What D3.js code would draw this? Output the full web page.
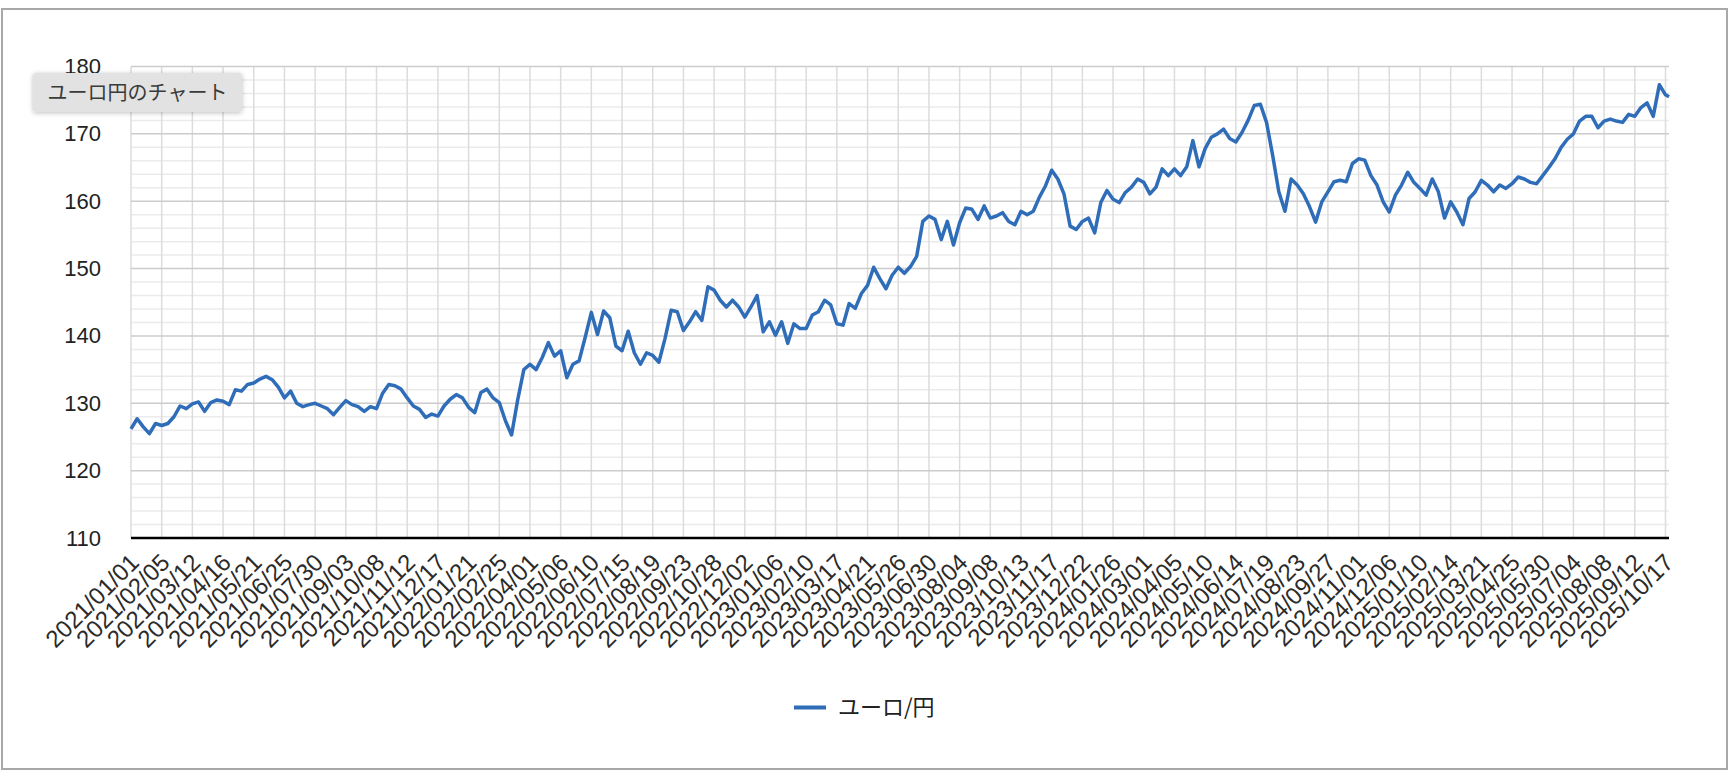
<!DOCTYPE html>
<html>
<head>
<meta charset="utf-8">
<script src="https://cdn.jsdelivr.net/npm/d3@7"></script>
<style>
  html, body { margin: 0; padding: 0; background: #fff; }
  svg { display: block; font-family: "Liberation Sans", Arial, "Noto Sans CJK JP", sans-serif; }
</style>
</head>
<body>
<svg id="chart" width="1730" height="772"></svg>
<script>
// ---- data ----
const chartTitle = "ユーロ円のチャート";
const seriesName = "ユーロ/円";
const startDate = "2021/01/01";
const stepDays = 7;
const lastDate = "2025/10/21";
// weekly EUR/JPY readings, from startDate every stepDays, last one at lastDate
const rates = [
  126.2, 127.7, 126.5, 125.5, 127.0, 126.7, 127.0, 128.0, 129.6, 129.2,
  129.9, 130.2, 128.8, 130.1, 130.5, 130.3, 129.8, 132.0, 131.8, 132.8,
  133.0, 133.6, 134.0, 133.5, 132.4, 130.8, 131.8, 130.0, 129.5, 129.8,
  130.0, 129.6, 129.2, 128.3, 129.4, 130.4, 129.8, 129.5, 128.8, 129.5,
  129.2, 131.5, 132.8, 132.6, 132.1, 130.8, 129.6, 129.1, 127.9, 128.4,
  128.1, 129.6, 130.6, 131.3, 130.8, 129.4, 128.6, 131.6, 132.1, 130.8,
  130.1, 127.4, 125.3, 130.5, 135.0, 135.8, 135.0, 136.8, 139.0, 137.0,
  137.8, 133.8, 135.8, 136.3, 139.8, 143.5, 140.2, 143.7, 142.7, 138.5,
  137.8, 140.7, 137.5, 135.8, 137.5, 137.1, 136.1, 139.6, 143.8, 143.6,
  140.8, 142.1, 143.6, 142.3, 147.3, 146.8, 145.3, 144.3, 145.3, 144.3,
  142.8, 144.3, 146.0, 140.6, 142.1, 140.1, 142.1, 138.9, 141.8, 141.1,
  141.1, 143.1, 143.6, 145.3, 144.6, 141.8, 141.6, 144.8, 144.1, 146.3,
  147.5, 150.2, 148.5, 147.0, 149.0, 150.2, 149.3, 150.3, 151.8, 157.0,
  157.8, 157.3, 154.3, 157.0, 153.5, 156.8, 159.0, 158.8, 157.3, 159.3,
  157.5, 157.8, 158.3, 157.0, 156.5, 158.5, 158.0, 158.5, 160.6, 162.3,
  164.6, 163.3, 161.1, 156.3, 155.8, 157.0, 157.5, 155.3, 159.8, 161.6,
  160.3, 159.8, 161.3, 162.1, 163.3, 162.8, 161.1, 162.1, 164.8, 163.8,
  164.8, 163.8, 165.1, 169.0, 165.1, 167.8, 169.5, 170.0, 170.7, 169.3,
  168.8, 170.2, 172.0, 174.2, 174.4, 171.7, 166.8, 161.4, 158.5, 163.3,
  162.4, 161.1, 159.2, 156.9, 159.9, 161.4, 162.9, 163.1, 162.9, 165.6,
  166.3, 166.1, 163.8, 162.4, 159.9, 158.4, 160.9, 162.4, 164.3, 162.8,
  161.9, 160.9, 163.3, 161.4, 157.5, 159.9, 158.4, 156.5, 160.4, 161.4,
  163.1, 162.4, 161.4, 162.4, 161.9, 162.6, 163.6, 163.3, 162.8, 162.6,
  163.8, 165.0, 166.3, 168.0, 169.2, 170.0, 171.9, 172.6, 172.6, 170.9,
  171.9, 172.2, 171.9, 171.7, 172.9, 172.6, 173.9, 174.6, 172.6, 177.3,
  175.8, 175.5
];
const xTickLabels = [
  "2021/01/01","2021/02/05","2021/03/12","2021/04/16","2021/05/21","2021/06/25",
  "2021/07/30","2021/09/03","2021/10/08","2021/11/12","2021/12/17",
  "2022/01/21","2022/02/25","2022/04/01","2022/05/06","2022/06/10","2022/07/15",
  "2022/08/19","2022/09/23","2022/10/28","2022/12/02",
  "2023/01/06","2023/02/10","2023/03/17","2023/04/21","2023/05/26","2023/06/30",
  "2023/08/04","2023/09/08","2023/10/13","2023/11/17","2023/12/22",
  "2024/01/26","2024/03/01","2024/04/05","2024/05/10","2024/06/14","2024/07/19",
  "2024/08/23","2024/09/27","2024/11/01","2024/12/06",
  "2025/01/10","2025/02/14","2025/03/21","2025/04/25","2025/05/30","2025/07/04",
  "2025/08/08","2025/09/12","2025/10/17"
];
const yTicks = [110, 120, 130, 140, 150, 160, 170, 180];
const yMinorStep = 2;

// ---- build ----
const parse = d3.utcParse("%Y/%m/%d");
const t0 = parse(startDate), tEnd = parse(lastDate);
const data = rates.map((v, i) => ({
  date: i < rates.length - 1 ? d3.utcDay.offset(t0, i * stepDays) : tEnd,
  value: v
}));

const svg = d3.select("#chart");
const W = 1730, H = 772;
const plot = { left: 131, right: 1669, top: 66.5, bottom: 538 };

svg.append("rect").attr("width", W).attr("height", H).attr("fill", "#fff");
svg.append("rect").attr("x", 2).attr("y", 9).attr("width", 1725).attr("height", 760)
  .attr("fill", "none").attr("stroke", "#a8a8a8").attr("stroke-width", 2);

const x = d3.scaleUtc().domain([t0, tEnd]).range([plot.left, plot.right]);
const y = d3.scaleLinear().domain([yTicks[0], yTicks[yTicks.length - 1]]).range([plot.bottom, plot.top]);

// minor horizontal gridlines
const minor = d3.range(yTicks[0], yTicks[yTicks.length - 1], yMinorStep).filter(v => v % 10 !== 0);
svg.append("g").selectAll("line").data(minor).join("line")
  .attr("x1", plot.left).attr("x2", plot.right)
  .attr("y1", d => y(d)).attr("y2", d => y(d))
  .attr("stroke", "#ebebeb").attr("stroke-width", 1.5);

// vertical gridlines
svg.append("g").selectAll("line").data(xTickLabels).join("line")
  .attr("x1", d => x(parse(d))).attr("x2", d => x(parse(d)))
  .attr("y1", plot.top).attr("y2", plot.bottom)
  .attr("stroke", "#dcdcdc").attr("stroke-width", 1.5);

// major horizontal gridlines
svg.append("g").selectAll("line").data(yTicks.slice(1)).join("line")
  .attr("x1", plot.left).attr("x2", plot.right)
  .attr("y1", d => y(d)).attr("y2", d => y(d))
  .attr("stroke", "#cccccc").attr("stroke-width", 1.5);

// y axis labels
const yAxis = d3.axisLeft(y).tickValues(yTicks).tickSize(0).tickPadding(0).tickFormat(d3.format("d"));
const gy = svg.append("g").attr("transform", `translate(101,0)`).call(yAxis);
gy.select(".domain").remove();
gy.selectAll("text").attr("font-size", 22).attr("fill", "#222")
  .attr("font-family", "'Liberation Sans', Arial, sans-serif");

// series line
const line = d3.line().x(d => x(d.date)).y(d => y(d.value));
svg.append("path").datum(data).attr("d", line)
  .attr("fill", "none").attr("stroke", "#2f6db9").attr("stroke-width", 3.5)
  .attr("stroke-linejoin", "round");

// baseline
svg.append("line").attr("x1", plot.left).attr("x2", plot.right)
  .attr("y1", plot.bottom).attr("y2", plot.bottom)
  .attr("stroke", "#000").attr("stroke-width", 2.5);

// x axis labels (slanted)
const xAxis = d3.axisBottom(x).tickValues(xTickLabels.map(parse)).tickSize(0).tickPadding(0)
  .tickFormat(d3.utcFormat("%Y/%m/%d"));
const gx = svg.append("g").attr("transform", `translate(0,${plot.bottom})`).call(xAxis);
gx.select(".domain").remove();
gx.selectAll("text")
  .attr("font-size", 24).attr("fill", "#2a2a2a")
  .attr("font-family", "'Liberation Sans', Arial, sans-serif")
  .attr("text-anchor", "end")
  .attr("y", null)
  .attr("transform", "translate(3,20) rotate(-45)")
  .attr("dy", "0.35em");

// legend
const lg = svg.append("g").attr("transform", "translate(794,707.5)");
lg.append("line").attr("x1", 0).attr("x2", 32).attr("y1", 0).attr("y2", 0)
  .attr("stroke", "#2f6db9").attr("stroke-width", 4);
lg.append("text").attr("x", 44).attr("y", 0).attr("dy", "0.35em")
  .attr("font-size", 22).attr("fill", "#222")
  .attr("font-family", "'Noto Sans CJK JP', sans-serif")
  .text(seriesName);

// title chip
const defs = svg.append("defs");
const f = defs.append("filter").attr("id", "sh").attr("x", "-20%").attr("y", "-40%").attr("width", "140%").attr("height", "180%");
f.append("feDropShadow").attr("dx", 0).attr("dy", 1).attr("stdDeviation", 2.5)
  .attr("flood-color", "#000").attr("flood-opacity", 0.25);
const tg = svg.append("g").attr("transform", "translate(33,73)");
tg.append("rect").attr("width", 209).attr("height", 39).attr("rx", 3)
  .attr("fill", "#e2e2e2").attr("filter", "url(#sh)");
tg.append("text").attr("x", 104.5).attr("y", 20).attr("dy", "0.35em")
  .attr("text-anchor", "middle").attr("font-size", 20).attr("fill", "#3a3a3a")
  .attr("font-family", "'Noto Sans CJK JP', sans-serif")
  .text(chartTitle);
</script>
</body>
</html>
